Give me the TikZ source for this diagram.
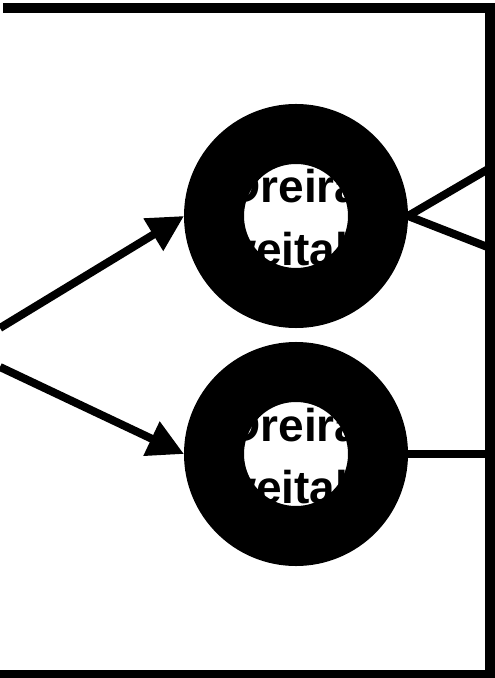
\documentclass[tikz,border=0pt]{standalone}
\usepackage{fontspec}
\setsansfont{Liberation Sans}
\usetikzlibrary{arrows.meta,positioning}

\begin{document}
\begin{tikzpicture}[x=0.5pt, y=-0.5pt,
  ring/.style={circle, draw=black, line width=30pt, minimum size=82pt, inner sep=0pt, outer sep=15pt},
  wire/.style={line width=4pt},
  arrowline/.style={wire, -{Triangle[length=18pt,width=18pt]}},
  word/.style={anchor=base west, inner sep=0pt, font=\sffamily\bfseries\fontsize{23}{27}\selectfont}]
  \useasboundingbox (0,0) rectangle (494,678);
  % frame, open on the left
  \draw[line width=5pt] (3,8) -- (490,8) -- (490,678);
  \draw[line width=4pt] (0,674) -- (494,674);
  % labels (mostly hidden under the rings)
  \node[word] (upperA) at (227,203) {Dreirad};
  \node[word] (upperB) at (197,265) {zweitakt};
  \node[word] (lowerA) at (227,441) {Dreirad};
  \node[word] (lowerB) at (197,503) {zweitakt};
  % rings
  \node[ring] (ring1) at (296,216) {};
  \node[ring] (ring2) at (296,454) {};
  % free ends
  \coordinate (in1) at (0,328);
  \coordinate (in2) at (0,367);
  \coordinate (out1) at (490,168);
  \coordinate (out2) at (490,248);
  \coordinate (out3) at (490,454);
  % connectors
  \draw[arrowline] (in1) -- (ring1.west);
  \draw[arrowline] (in2) -- (ring2.west);
  \draw[wire] (ring1.east) -- (out1);
  \draw[wire] (ring1.east) -- (out2);
  \draw[wire] (ring2.east) -- (out3);
\end{tikzpicture}
\end{document}
